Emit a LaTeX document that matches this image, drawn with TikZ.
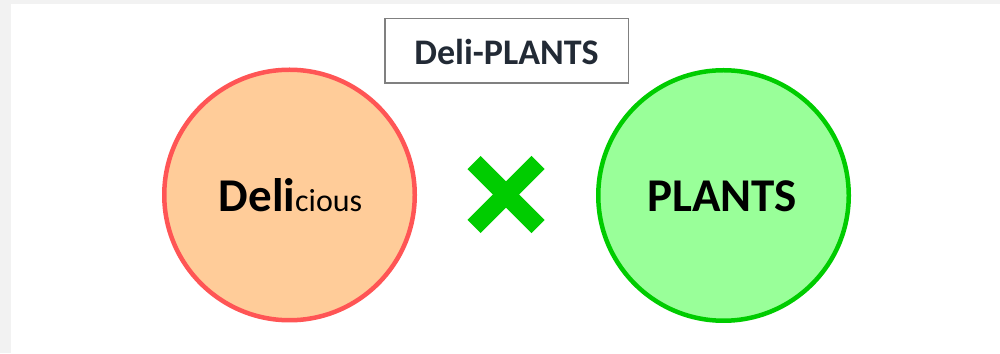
\documentclass[tikz,border=0pt]{standalone}
\usepackage{fontspec}
\setmainfont{Carlito}
\definecolor{bggray}{HTML}{F2F2F2}
\definecolor{titletext}{HTML}{222A35}
\definecolor{boxgray}{HTML}{808080}
\definecolor{redline}{HTML}{FF5555}
\definecolor{peach}{HTML}{FFCC99}
\definecolor{greenline}{HTML}{00CC00}
\definecolor{lightgreen}{HTML}{99FF99}
\begin{document}
\begin{tikzpicture}[x=1pt,y=1pt,
  bubble/.style={circle, line width=4.5pt, minimum size=250.5pt, inner sep=0pt},
  crossbar/.style={line width=18.5pt, line cap=butt, draw=greenline}]
\useasboundingbox (0,0) rectangle (1000,353);
\fill[bggray] (0,0) rectangle (1000,353);
\fill[white] (11,0) rectangle (1000,349);
% title box
\node[draw=boxgray, line width=1.5pt, minimum width=243.5pt, minimum height=64.5pt, inner sep=0pt] (titlebox) at (506.5,302) {};
\node[anchor=base, text=titletext, font=\fontsize{36}{40}\selectfont\bfseries] (title) at (506.5,288) {Deli-PLANTS};
% circles
\node[bubble, draw=redline, fill=peach] (left) at (289.5,158) {};
\node[bubble, draw=greenline, fill=lightgreen] (right) at (723.5,157.5) {};
\node[anchor=base, inner sep=0pt] (deli) at (290.5,141) {\fontsize{47}{50}\selectfont\bfseries Deli\fontsize{32}{36}\selectfont\mdseries cious};
\node[anchor=base, inner sep=0pt, font=\fontsize{47}{50}\selectfont\bfseries] (plants) at (722,141) {PLANTS};
% cross
\coordinate (xtl) at (474,190.5);
\coordinate (xbr) at (538,126.5);
\coordinate (xbl) at (474,126.5);
\coordinate (xtr) at (538,190.5);
\draw[crossbar] (xtl) -- (xbr);
\draw[crossbar] (xbl) -- (xtr);
\end{tikzpicture}
\end{document}
